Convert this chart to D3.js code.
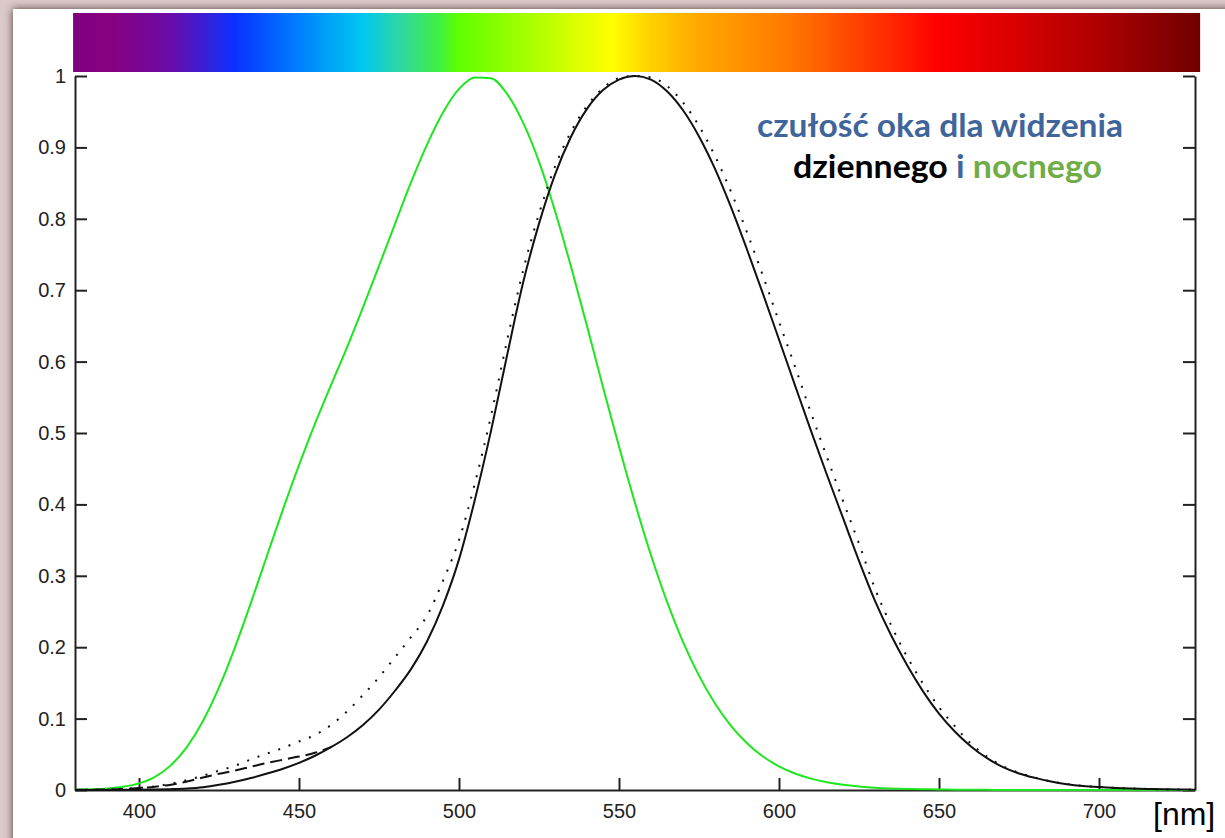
<!DOCTYPE html>
<html>
<head>
<meta charset="utf-8">
<script src="https://cdn.jsdelivr.net/npm/d3@7"></script>
<style>
  html, body { margin: 0; padding: 0; background: #dccaca; }
  svg { display: block; }
</style>
</head>
<body>
<script>
// ---------------- DATA ----------------
const wavelengths = d3.range(380, 731, 5); // 380..730 nm

// photopic (day vision), solid black
const photopic = [0.000039,0.000064,0.00012,0.000217,0.000396,0.00064,0.00121,0.00218,0.004,0.0073,
  0.0116,0.01684,0.023,0.0298,0.038,0.048,0.06,0.0739,0.091,0.1126,
  0.139,0.1693,0.208,0.2586,0.323,0.4073,0.503,0.6082,0.71,0.7932,
  0.862,0.9149,0.954,0.9803,0.995,1.0,0.995,0.9786,0.952,0.9154,
  0.87,0.8163,0.757,0.6949,0.631,0.5668,0.503,0.4412,0.381,0.321,
  0.265,0.217,0.175,0.1382,0.107,0.0816,0.061,0.0446,0.032,0.0232,
  0.017,0.0119,0.0082,0.0057,0.0041,0.0029,0.0021,0.0015,0.001,0.0007,0.0005];

// scotopic (night vision), green
const scotopic = [0.000589,0.001108,0.002209,0.00453,0.00929,0.01852,0.03484,0.0604,0.0966,0.1436,
  0.1998,0.2625,0.3281,0.3931,0.455,0.513,0.567,0.62,0.676,0.734,
  0.793,0.851,0.904,0.949,0.982,0.998,0.997,0.975,0.935,0.88,
  0.811,0.733,0.65,0.564,0.481,0.402,0.3288,0.2639,0.2076,0.1602,
  0.1212,0.0899,0.0655,0.0469,0.0332,0.0231,0.0159,0.0109,0.0074,0.005,
  0.0033,0.0022,0.0015,0.001,0.0007,0.0005,0.0003,0.0002,0.0001,0.0001,
  0.0001,0,0,0,0,0,0,0,0,0,0];

// dotted black curve
const dotted = [0.0002,0.0004,0.0008,0.0015,0.0028,0.005,0.009,0.014,0.02,0.027,
  0.034,0.043,0.051,0.059,0.068,0.077,0.091,0.11,0.133,0.158,
  0.186,0.214,0.244,0.293,0.35,0.43,0.524,0.629,0.727,0.807,
  0.873,0.922,0.958,0.983,0.997,1.0,0.998,0.986,0.963,0.93,
  0.888,0.838,0.781,0.72,0.656,0.593,0.528,0.466,0.405,0.345,
  0.282,0.231,0.187,0.149,0.116,0.089,0.065,0.047,0.0335,0.024,
  0.0175,0.012,0.0084,0.0058,0.0042,0.0029,0.0021,0.0015,0.001,0.0007,0.0005];

// dashed black curve (short-wavelength part only)
const dashedWavelengths = d3.range(380, 461, 5);
const dashed = [0.0002,0.0004,0.0008,0.0015,0.0028,0.0047,0.0074,0.0118,0.0175,0.0227,
  0.0273,0.0326,0.0379,0.0424,0.0468,0.0521,0.06];

const xTicks = [400, 450, 500, 550, 600, 650, 700];
const xTickLabels = ["400", "450", "500", "550", "600", "650", "700"];
const yTicks = [0, 0.1, 0.2, 0.3, 0.4, 0.5, 0.6, 0.7, 0.8, 0.9, 1];
const yTickLabels = ["0", "0.1", "0.2", "0.3", "0.4", "0.5", "0.6", "0.7", "0.8", "0.9", "1"];

// spectrum bar colour stops (wavelength in nm, colour)
const spectrumNm = [379.4, 391, 410, 430, 450, 470, 482, 494, 500, 522, 538, 548, 560, 575, 603, 622, 638, 649, 672, 700, 731.6];
const spectrumColors = ["#7f0080", "#87007f", "#6a0ca8", "#0a30ff", "#0080ff", "#00c8f0", "#30d8a0", "#40f040", "#60ff00", "#a8ff00", "#e0ff00", "#ffff00", "#ffd000", "#ffa800", "#ff7800", "#ff4800", "#ff2000", "#ff0000", "#dc0000", "#ae0000", "#700000"];

const titleLine1 = "czułość oka dla widzenia";
const titleLine2 = [["dziennego", "#000000"], [" i ", "#3f659a"], ["nocnego", "#70ad47"]];
const unitLabel = "[nm]";

// ---------------- DRAW ----------------
const W = 1225, H = 838;
const svg = d3.select("body").append("svg").attr("width", W).attr("height", H);
const defs = svg.append("defs");

const f = defs.append("filter").attr("id", "shadow")
  .attr("x", "-5%").attr("y", "-5%").attr("width", "110%").attr("height", "110%");
f.append("feDropShadow").attr("dx", 0).attr("dy", 0).attr("stdDeviation", 4.5)
  .attr("flood-color", "#4e3434").attr("flood-opacity", 1);

svg.append("rect").attr("width", W).attr("height", H).attr("fill", "#dccaca");
svg.append("rect").attr("x", 13).attr("y", 9).attr("width", W + 40).attr("height", H + 40)
  .attr("fill", "#ffffff").attr("filter", "url(#shadow)");

const x = d3.scaleLinear().domain([380, 730]).range([75, 1195]);
const y = d3.scaleLinear().domain([0, 1]).range([790, 76]);

// spectrum gradient bar
const grad = defs.append("linearGradient").attr("id", "spec")
  .attr("gradientUnits", "userSpaceOnUse")
  .attr("x1", x(spectrumNm[0])).attr("x2", x(spectrumNm[spectrumNm.length - 1]))
  .attr("y1", 0).attr("y2", 0);
const x0 = x(spectrumNm[0]), x1 = x(spectrumNm[spectrumNm.length - 1]);
spectrumNm.forEach((nm, i) => {
  grad.append("stop").attr("offset", (x(nm) - x0) / (x1 - x0)).attr("stop-color", spectrumColors[i]);
});
svg.append("rect").attr("x", x0).attr("y", 13).attr("width", x1 - x0).attr("height", 59)
  .attr("fill", "url(#spec)");

// axes
const axisColor = "#222";
const gx = svg.append("g").attr("transform", `translate(0,${y(0)})`)
  .call(d3.axisBottom(x).tickValues(xTicks).tickFormat((d, i) => xTickLabels[i])
    .tickSizeInner(-12).tickSizeOuter(0).tickPadding(14));
const gy = svg.append("g").attr("transform", `translate(${x(380)},0)`)
  .call(d3.axisLeft(y).tickValues(yTicks).tickFormat((d, i) => yTickLabels[i])
    .tickSizeInner(-12).tickSizeOuter(0).tickPadding(9));
const gr = svg.append("g").attr("transform", `translate(${x(730)},0)`)
  .call(d3.axisRight(y).tickValues(yTicks).tickFormat("")
    .tickSizeInner(-12).tickSizeOuter(0));
[gx, gy, gr].forEach(g => {
  g.select(".domain").attr("stroke", axisColor).attr("stroke-width", 2);
  g.selectAll(".tick line").attr("stroke", axisColor).attr("stroke-width", 2);
  g.selectAll(".tick text").attr("fill", "#222").style("font-family", "'Liberation Sans', Arial, sans-serif").style("font-size", "20px");
});

// curves
const line = d3.line().x(d => x(d[0])).y(d => y(d[1])).curve(d3.curveMonotoneX);
const zipped = (wl, v) => wl.map((w, i) => [w, v[i]]);

svg.append("path").datum(zipped(wavelengths, scotopic)).attr("d", line)
  .attr("fill", "none").attr("stroke", "#1ee61e").attr("stroke-width", 2);
svg.append("path").datum(zipped(dashedWavelengths, dashed)).attr("d", line)
  .attr("fill", "none").attr("stroke", "#111").attr("stroke-width", 2).attr("stroke-dasharray", "12,6");
svg.append("path").datum(zipped(wavelengths, dotted)).attr("d", line)
  .attr("fill", "none").attr("stroke", "#111").attr("stroke-width", 2).attr("stroke-dasharray", "2,9");
svg.append("path").datum(zipped(wavelengths, photopic)).attr("d", line)
  .attr("fill", "none").attr("stroke", "#111").attr("stroke-width", 2);

// title text
const tfont = "Lato, 'Open Sans', sans-serif";
svg.append("text").attr("x", 940).attr("y", 137).attr("text-anchor", "middle")
  .attr("font-family", tfont).attr("font-weight", "bold").attr("font-size", 33)
  .attr("fill", "#3f659a").attr("textLength", 366).attr("lengthAdjust", "spacingAndGlyphs")
  .text(titleLine1);
const t2 = svg.append("text").attr("x", 947.5).attr("y", 178).attr("text-anchor", "middle")
  .attr("font-family", tfont).attr("font-weight", "bold").attr("font-size", 33)
  .attr("textLength", 309).attr("lengthAdjust", "spacingAndGlyphs");
titleLine2.forEach(([s, c]) => t2.append("tspan").attr("fill", c).text(s));

svg.append("text").attr("x", 1153).attr("y", 825)
  .attr("font-family", "'Liberation Sans', Arial, sans-serif").attr("font-size", 32)
  .attr("fill", "#000").text(unitLabel);
</script>
</body>
</html>
